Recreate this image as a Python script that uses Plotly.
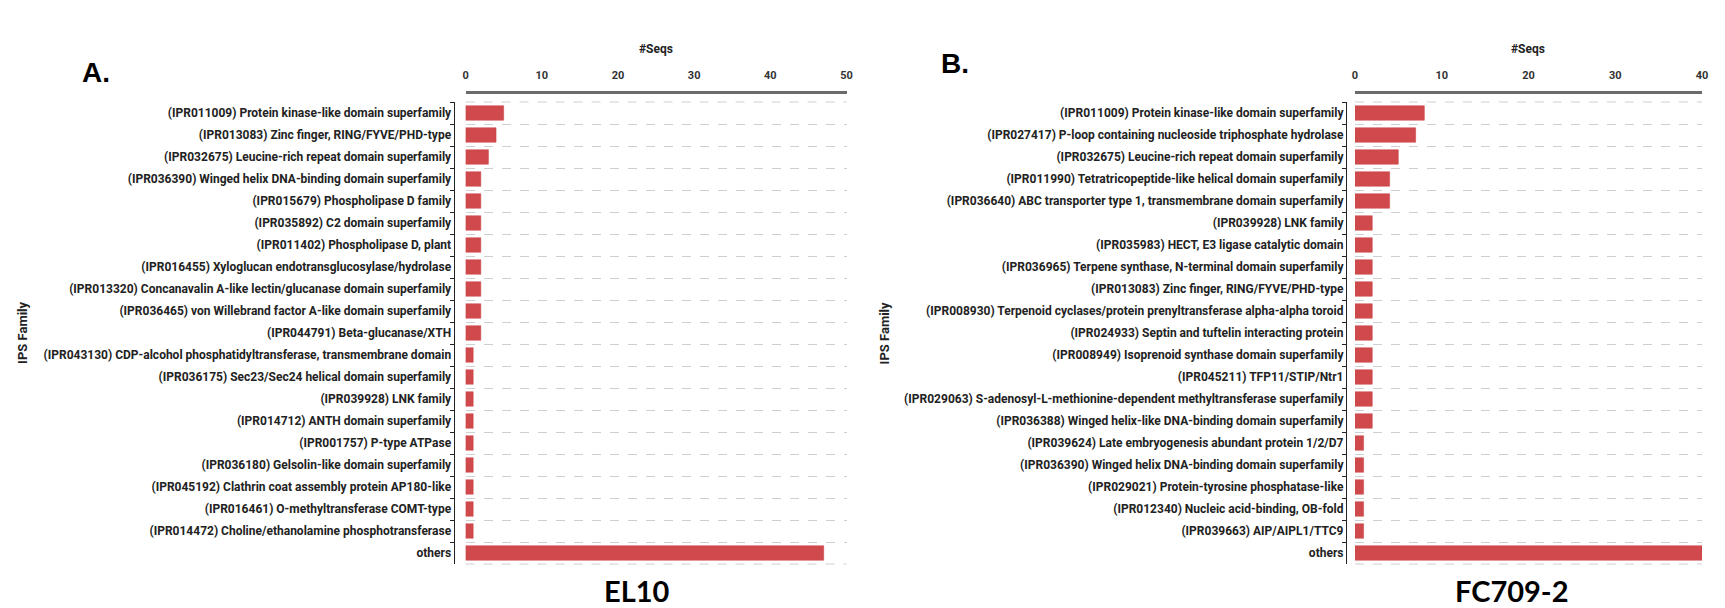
import plotly.graph_objects as go

W, H = 1725, 608

# ---------------- data ----------------
el10_families = [
    "(IPR011009) Protein kinase-like domain superfamily",
    "(IPR013083) Zinc finger, RING/FYVE/PHD-type",
    "(IPR032675) Leucine-rich repeat domain superfamily",
    "(IPR036390) Winged helix DNA-binding domain superfamily",
    "(IPR015679) Phospholipase D family",
    "(IPR035892) C2 domain superfamily",
    "(IPR011402) Phospholipase D, plant",
    "(IPR016455) Xyloglucan endotransglucosylase/hydrolase",
    "(IPR013320) Concanavalin A-like lectin/glucanase domain superfamily",
    "(IPR036465) von Willebrand factor A-like domain superfamily",
    "(IPR044791) Beta-glucanase/XTH",
    "(IPR043130) CDP-alcohol phosphatidyltransferase, transmembrane domain",
    "(IPR036175) Sec23/Sec24 helical domain superfamily",
    "(IPR039928) LNK family",
    "(IPR014712) ANTH domain superfamily",
    "(IPR001757) P-type ATPase",
    "(IPR036180) Gelsolin-like domain superfamily",
    "(IPR045192) Clathrin coat assembly protein AP180-like",
    "(IPR016461) O-methyltransferase COMT-type",
    "(IPR014472) Choline/ethanolamine phosphotransferase",
    "others",
]
el10_counts = [5, 4, 3, 2, 2, 2, 2, 2, 2, 2, 2, 1, 1, 1, 1, 1, 1, 1, 1, 1, 47]

fc_families = [
    "(IPR011009) Protein kinase-like domain superfamily",
    "(IPR027417) P-loop containing nucleoside triphosphate hydrolase",
    "(IPR032675) Leucine-rich repeat domain superfamily",
    "(IPR011990) Tetratricopeptide-like helical domain superfamily",
    "(IPR036640) ABC transporter type 1, transmembrane domain superfamily",
    "(IPR039928) LNK family",
    "(IPR035983) HECT, E3 ligase catalytic domain",
    "(IPR036965) Terpene synthase, N-terminal domain superfamily",
    "(IPR013083) Zinc finger, RING/FYVE/PHD-type",
    "(IPR008930) Terpenoid cyclases/protein prenyltransferase alpha-alpha toroid",
    "(IPR024933) Septin and tuftelin interacting protein",
    "(IPR008949) Isoprenoid synthase domain superfamily",
    "(IPR045211) TFP11/STIP/Ntr1",
    "(IPR029063) S-adenosyl-L-methionine-dependent methyltransferase superfamily",
    "(IPR036388) Winged helix-like DNA-binding domain superfamily",
    "(IPR039624) Late embryogenesis abundant protein 1/2/D7",
    "(IPR036390) Winged helix DNA-binding domain superfamily",
    "(IPR029021) Protein-tyrosine phosphatase-like",
    "(IPR012340) Nucleic acid-binding, OB-fold",
    "(IPR039663) AIP/AIPL1/TTC9",
    "others",
]
fc_counts = [8, 7, 5, 4, 4, 2, 2, 2, 2, 2, 2, 2, 2, 2, 2, 1, 1, 1, 1, 1, 40]

x_ticks_el10 = [0, 10, 20, 30, 40, 50]
x_ticks_fc = [0, 10, 20, 30, 40]

panel_titles = ["EL10", "FC709-2"]
panel_letters = ["A.", "B."]
x_title = "#Seqs"
y_title = "IPS Family"

# ---------------- geometry (pixels) ----------------
def px_x(p):
    return p / W

def px_y(p):
    return 1 - p / H

BAR_COLOR = "#d0494c"
LABEL_FONT = dict(family="Roboto", size=12, color="#222222", weight="bold")

plot_top, plot_bot = 102, 564
panels = [
    dict(x0=465, x1=848, yline=453, families=el10_families, counts=el10_counts,
         ticks=x_ticks_el10, xmax=50, ytitle_x=19, letter_xy=(93, 72), title_x=637),
    dict(x0=1359, x1=1708, yline=1350, families=fc_families, counts=fc_counts,
         ticks=x_ticks_fc, xmax=40, ytitle_x=886, letter_xy=(957, 63), title_x=1517),
]

fig = go.Figure()
layout = dict(
    width=W, height=H,
    margin=dict(l=0, r=0, t=0, b=0),
    paper_bgcolor="white", plot_bgcolor="white",
    showlegend=False,
)
annotations = []
shapes = []

for i, p in enumerate(panels, start=1):
    xa = "x" if i == 1 else f"x{i}"
    ya = "y" if i == 1 else f"y{i}"
    xkey = "xaxis" if i == 1 else f"xaxis{i}"
    ykey = "yaxis" if i == 1 else f"yaxis{i}"

    fig.add_trace(go.Bar(
        x=p["counts"], y=p["families"], orientation="h",
        marker=dict(color=BAR_COLOR, line=dict(color="#c94044", width=0.5)),
        xaxis=xa, yaxis=ya, width=0.66,
    ))

    layout[xkey] = dict(
        domain=[px_x(p["x0"]), px_x(p["x1"])],
        range=[0, p["xmax"]],
        side="top",
        anchor="free",
        position=px_y(92),
        tickvals=p["ticks"],
        ticks="outside", ticklen=8, tickcolor="rgba(0,0,0,0)",
        tickfont=dict(family="Roboto", size=11, color="#333333", weight="bold"),
        showline=True, linecolor="#6b6b6b", linewidth=3,
        showgrid=False, zeroline=False, fixedrange=True,
    )
    layout[ykey] = dict(
        domain=[px_y(plot_bot), px_y(plot_top)],
        type="category",
        categoryorder="array", categoryarray=p["families"],
        autorange="reversed",
        anchor="free",
        position=px_x(p["yline"]),
        tickson="boundaries",
        ticks="outside", ticklen=4, tickcolor="#222222", tickwidth=1.2,
        tickfont=LABEL_FONT,
        showline=True, linecolor="#222222", linewidth=1.2,
        showgrid=True, gridcolor="#cfcfcf", griddash="dash", gridwidth=1,
        zeroline=False, fixedrange=True,
    )

    # dashed boundary lines at top and bottom of the plot area
    for yd in (0, 1):
        shapes.append(dict(
            type="line", xref=f"{xa} domain", yref=f"{ya} domain",
            x0=0, x1=1, y0=yd, y1=yd,
            line=dict(color="#cfcfcf", width=1, dash="dash"), layer="below",
        ))

    # "#Seqs" title
    annotations.append(dict(
        x=px_x((p["x0"] + p["x1"]) / 2), y=px_y(49), xref="paper", yref="paper",
        text=x_title, showarrow=False, xanchor="center", yanchor="middle",
        font=dict(family="Roboto", size=12, color="#222222", weight="bold"),
    ))
    # "IPS Family"
    annotations.append(dict(
        x=px_x(p["ytitle_x"]), y=px_y((plot_top + plot_bot) / 2), xref="paper", yref="paper",
        text=y_title, showarrow=False, textangle=-90, xanchor="center", yanchor="middle",
        font=dict(family="Roboto", size=13, color="#222222", weight="bold"),
    ))
    # panel letter
    annotations.append(dict(
        x=px_x(p["letter_xy"][0]), y=px_y(p["letter_xy"][1]), xref="paper", yref="paper",
        text=panel_letters[i - 1], showarrow=False, xanchor="center", yanchor="middle",
        font=dict(family="Liberation Sans", size=28, color="black", weight="bold"),
    ))
    # bottom title
    annotations.append(dict(
        x=px_x(p["title_x"]), y=px_y(590), xref="paper", yref="paper",
        text=panel_titles[i - 1], showarrow=False, xanchor="center", yanchor="middle",
        font=dict(family="Lato", size=29, color="black", weight="bold"),
    ))

layout["annotations"] = annotations
layout["shapes"] = shapes
fig.update_layout(**layout)
fig.write_html(
    "out.html",
    config={"displayModeBar": False},
    post_script="document.body.style.margin='0';document.body.style.overflow='hidden';",
)
